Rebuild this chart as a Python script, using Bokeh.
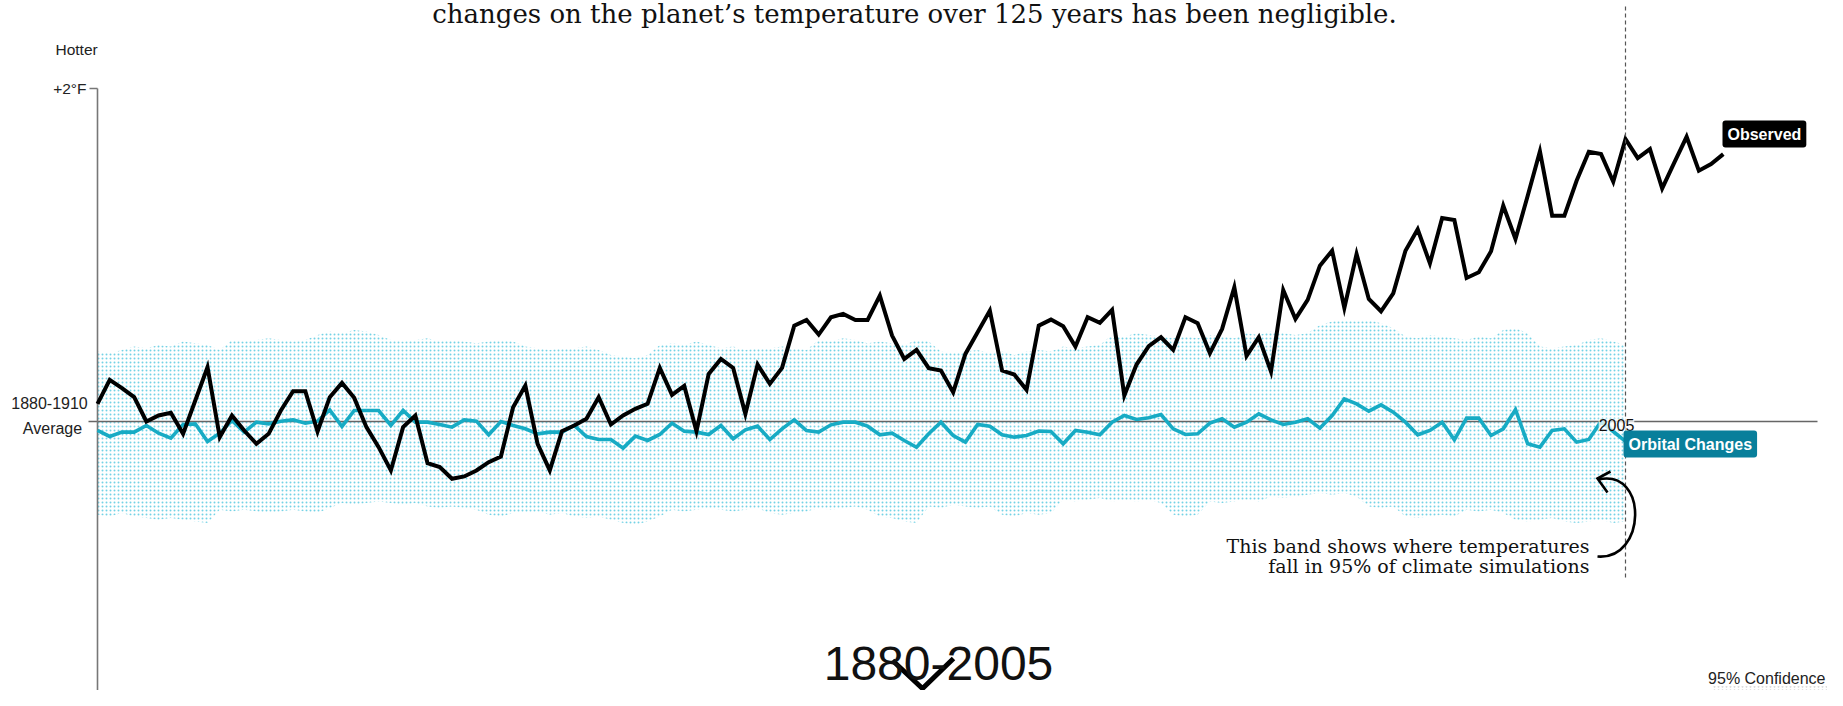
from bokeh.plotting import figure
from bokeh.models import Label
from bokeh.embed import file_html
from bokeh.resources import INLINE

# ---------------- data ----------------
obs_start = 1880
observed = [
    0.106, 0.25, 0.20, 0.146, 0.0, 0.036, 0.052, -0.074, 0.126, 0.326,
    -0.094, 0.036, -0.054, -0.134, -0.074, 0.066, 0.182, 0.182, -0.06, 0.146,
    0.232, 0.142, -0.034, -0.154, -0.294, -0.034, 0.036, -0.25, -0.274, -0.344,
    -0.33, -0.294, -0.244, -0.21, 0.086, 0.216, -0.134, -0.294, -0.058, -0.024,
    0.016, 0.146, -0.018, 0.036, 0.076, 0.106, 0.322, 0.16, 0.214, -0.058,
    0.286, 0.376, 0.322, 0.046, 0.342, 0.226, 0.322, 0.576, 0.61, 0.522,
    0.626, 0.646, 0.61, 0.61, 0.756, 0.516, 0.376, 0.43, 0.32, 0.306,
    0.176, 0.406, 0.536, 0.666, 0.306, 0.282, 0.19, 0.576, 0.612, 0.572,
    0.45, 0.626, 0.592, 0.67, 0.156, 0.342, 0.452, 0.506, 0.43, 0.626,
    0.59, 0.41, 0.556, 0.806, 0.394, 0.506, 0.30, 0.79, 0.616, 0.73,
    0.936, 1.026, 0.682, 1.006, 0.736, 0.662, 0.77, 1.026, 1.154, 0.95,
    1.222, 1.21, 0.862, 0.896, 1.022, 1.296, 1.096, 1.356, 1.622, 1.236,
    1.236, 1.446, 1.62, 1.606, 1.44, 1.696, 1.582, 1.636, 1.40, 1.556,
    1.71, 1.506, 1.546, 1.606,
]
model_start = 1880
orbital = [
    -0.054, -0.09, -0.064, -0.064, -0.024, -0.07, -0.10, -0.018, -0.014, -0.12,
    -0.07, 0.006, -0.064, -0.004, -0.014, 0.002, 0.01, -0.01, 0.002, 0.07,
    -0.03, 0.066, 0.066, 0.066, -0.024, 0.066, -0.004, -0.004, -0.018, -0.034,
    0.01, 0.002, -0.08, 0.0, -0.024, -0.044, -0.074, -0.064, -0.064, -0.024,
    -0.09, -0.108, -0.108, -0.16, -0.088, -0.114, -0.078, -0.01, -0.058, -0.064,
    -0.078, -0.024, -0.104, -0.05, -0.028, -0.108, -0.044, 0.01, -0.054, -0.064,
    -0.02, -0.004, -0.004, -0.028, -0.08, -0.07, -0.114, -0.155, -0.074, -0.004,
    -0.084, -0.124, -0.018, -0.028, -0.08, -0.094, -0.084, -0.058, -0.06, -0.134,
    -0.054, -0.064, -0.08, -0.004, 0.036, 0.012, 0.022, 0.042, -0.044, -0.078,
    -0.074, -0.01, 0.016, -0.034, -0.004, 0.046, 0.01, -0.018, -0.004, 0.016,
    -0.04, 0.036, 0.136, 0.106, 0.062, 0.10, 0.056, -0.004, -0.08, -0.054,
    -0.004, -0.11, 0.02, 0.02, -0.084, -0.044, 0.072, -0.134, -0.154, -0.054,
    -0.044, -0.124, -0.108, 0.0, -0.06, -0.12,
]
band_upper = [
    0.42, 0.41, 0.43, 0.45, 0.44, 0.46, 0.45, 0.48, 0.47, 0.46,
    0.43, 0.49, 0.48, 0.49, 0.50, 0.49, 0.48, 0.49, 0.52, 0.54,
    0.53, 0.55, 0.54, 0.52, 0.49, 0.48, 0.49, 0.50, 0.48, 0.49,
    0.48, 0.47, 0.48, 0.49, 0.48, 0.45, 0.44, 0.43, 0.44, 0.44,
    0.45, 0.43, 0.40, 0.39, 0.38, 0.40, 0.46, 0.47, 0.46, 0.48,
    0.46, 0.44, 0.45, 0.43, 0.44, 0.44, 0.45, 0.44, 0.43, 0.49,
    0.48, 0.50, 0.49, 0.47, 0.48, 0.47, 0.46, 0.49, 0.48, 0.42,
    0.41, 0.42, 0.43, 0.41, 0.42, 0.40, 0.42, 0.43, 0.42, 0.45,
    0.44, 0.45, 0.46, 0.52, 0.51, 0.53, 0.52, 0.51, 0.50, 0.51,
    0.50, 0.52, 0.51, 0.50, 0.53, 0.52, 0.54, 0.53, 0.52, 0.53,
    0.58, 0.60, 0.61, 0.60, 0.61, 0.59, 0.56, 0.51, 0.50, 0.52,
    0.51, 0.50, 0.49, 0.51, 0.50, 0.55, 0.56, 0.53, 0.45, 0.44,
    0.45, 0.46, 0.49, 0.50, 0.48, 0.46,
]
band_lower = [
    -0.56, -0.57, -0.55, -0.57, -0.58, -0.59, -0.58, -0.59, -0.60, -0.61,
    -0.53, -0.54, -0.53, -0.54, -0.55, -0.54, -0.53, -0.54, -0.55, -0.52,
    -0.49, -0.50, -0.49, -0.48, -0.49, -0.50, -0.49, -0.51, -0.52, -0.51,
    -0.52, -0.53, -0.56, -0.57, -0.55, -0.55, -0.54, -0.56, -0.55, -0.57,
    -0.58, -0.57, -0.59, -0.61, -0.62, -0.60, -0.57, -0.53, -0.54, -0.53,
    -0.52, -0.53, -0.54, -0.53, -0.52, -0.55, -0.56, -0.55, -0.54, -0.52,
    -0.53, -0.52, -0.51, -0.53, -0.57, -0.58, -0.60, -0.61, -0.51, -0.52,
    -0.50, -0.51, -0.52, -0.51, -0.56, -0.57, -0.55, -0.56, -0.55, -0.47,
    -0.48, -0.47, -0.46, -0.48, -0.47, -0.48, -0.47, -0.49, -0.56, -0.57,
    -0.56, -0.48, -0.49, -0.48, -0.47, -0.48, -0.45, -0.46, -0.45, -0.44,
    -0.43, -0.44, -0.43, -0.45, -0.51, -0.52, -0.51, -0.57, -0.58, -0.57,
    -0.56, -0.57, -0.53, -0.54, -0.53, -0.55, -0.59, -0.60, -0.59, -0.58,
    -0.60, -0.61, -0.60, -0.59, -0.61, -0.60,
]
years_obs = list(range(obs_start, obs_start + len(observed)))
years_model = list(range(model_start, model_start + len(orbital)))
top_tick_value = 2
top_tick_label = "+2°F"
marker_year = 2005

# ---------------- layout helpers (picture pixels -> data) ----------------
W, H = 1827, 690
X0_PX, PX_PER_YEAR = 97.0, 12.224
Y0_PX, PX_PER_DEG = 421.0, 166.5


def yr(xp):
    return 1880 + (xp - X0_PX) / PX_PER_YEAR


def tv(yp):
    return (Y0_PX - yp) / PX_PER_DEG


p = figure(width=W, height=H,
           x_range=(yr(0), yr(W)), y_range=(tv(H), tv(0)),
           output_backend="svg", toolbar_location=None,
           x_axis_type=None, y_axis_type=None,
           min_border=0, outline_line_color=None,
           background_fill_color="white", border_fill_color="white")

SANS = "Liberation Sans"
SERIF = "DejaVu Serif"
TEAL = "#17abc4"
DOT = "#74d2e5"

# 95% band (dotted)
p.varea(x=years_model, y1=band_lower, y2=band_upper,
        fill_alpha=0, hatch_pattern="dot", hatch_color=DOT,
        hatch_scale=4, hatch_weight=2.8, hatch_alpha=1)

# baseline and y axis
p.segment(x0=yr(88), y0=0, x1=yr(1817), y1=0, line_color="#666666", line_width=1.3)
p.segment(x0=1880, y0=top_tick_value, x1=1880, y1=tv(H + 5),
          line_color="#777777", line_width=1.6)
p.segment(x0=yr(89), y0=top_tick_value, x1=1880, y1=top_tick_value,
          line_color="#777777", line_width=1.4)

# lines
p.line(years_model, orbital, line_color=TEAL, line_width=3.6, line_join="miter")
p.line(years_obs, observed, line_color="black", line_width=4.0, line_join="miter")

# 2005 dashed marker
p.segment(x0=marker_year, y0=tv(6), x1=marker_year, y1=tv(578),
          line_color="#555555", line_width=1.2, line_dash="4 3")

# curved arrow
p.bezier(x0=yr(1598), y0=tv(479), x1=yr(1597), y1=tv(556),
         cx0=yr(1648), cy0=tv(468), cx1=yr(1646), cy1=tv(560),
         line_color="black", line_width=2.6)
p.line([yr(1610), yr(1597), yr(1607)], [tv(471), tv(478), tv(492)],
       line_color="black", line_width=2.6, line_join="miter")

# legend strip
p.quad(left=yr(1712), right=yr(1828), bottom=tv(691), top=tv(686),
       fill_alpha=0, line_alpha=0, hatch_pattern="dot", hatch_color="#bbbbbb",
       hatch_scale=4, hatch_weight=2.0)


def lab(x, y, text, size, font=SANS, align="left", baseline="middle",
        color="#222222", style="normal", **kw):
    p.add_layout(Label(x=x, y=y, text=text, text_font_size=size, text_font=font,
                       text_align=align, text_baseline=baseline, text_color=color,
                       text_font_style=style, **kw))


lab(yr(914), tv(13), "changes on the planet’s temperature over 125 years has been negligible.",
    "26px", font=SERIF, align="center", color="#111111")
lab(yr(55), tv(49), "Hotter", "15.5px")
lab(yr(86), top_tick_value, top_tick_label, "15.5px", align="right")
lab(yr(49), tv(402), "1880-1910", "16px", align="center")
lab(yr(52), tv(428), "Average", "16px", align="center")

lab(yr(1616), tv(424), str(marker_year), "16px", align="center",
    color="#111111", background_fill_color="white", background_fill_alpha=0.75)

lab(yr(1623), tv(430), "Orbital Changes", "16px", align="left", baseline="top",
    color="white", style="bold", background_fill_color="#087f9b",
    padding=5, border_radius=3)
lab(yr(1722), tv(120), "Observed", "16px", align="left", baseline="top",
    color="white", style="bold", background_fill_color="black",
    padding=5, border_radius=3)

lab(yr(1589), tv(545), "This band shows where temperatures", "19px", font=SERIF,
    align="right", color="#111111")
lab(yr(1589), tv(565), "fall in 95% of climate simulations", "19px", font=SERIF,
    align="right", color="#111111")

lab(yr(938), tv(663), f"{years_obs[0]}-{marker_year}", "48px", align="center",
    color="#111111")
p.line([yr(892), yr(922), yr(953)], [tv(660), tv(688), tv(658)],
       line_color="black", line_width=5, line_join="miter")

lab(yr(1825), tv(678), "95% Confidence", "16px", align="right")

open("out.html", "w").write(file_html(p, INLINE))
